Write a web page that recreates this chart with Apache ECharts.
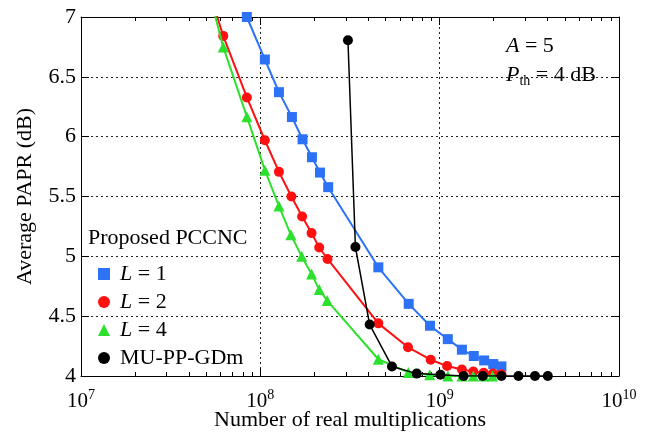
<!DOCTYPE html>
<html>
<head>
<meta charset="utf-8">
<script src="https://cdn.jsdelivr.net/npm/echarts@6/dist/echarts.min.js"></script>
<style>html,body{margin:0;padding:0;background:#fff}#c{width:654px;height:438px}</style>
</head>
<body>
<div id="c"></div>
<script>
// ---- data ----
const xL1 = [8.41e7, 1.06e8, 1.27e8, 1.50e8, 1.72e8, 1.94e8, 2.15e8, 2.39e8, 4.55e8, 6.72e8, 8.83e8, 1.11e9, 1.33e9, 1.55e9, 1.77e9, 1.99e9, 2.21e9];
const yL1 = [7.0, 6.645, 6.372, 6.164, 5.978, 5.828, 5.70, 5.578, 4.908, 4.603, 4.42, 4.308, 4.22, 4.167, 4.13, 4.10, 4.08];
const xL2 = [4.0e7, 6.21e7, 8.41e7, 1.06e8, 1.27e8, 1.49e8, 1.71e8, 1.93e8, 2.13e8, 2.37e8, 4.55e8, 6.66e8, 8.91e8, 1.10e9, 1.33e9, 1.54e9, 1.76e9, 1.98e9, 2.21e9];
const yL2 = [7.75, 6.842, 6.328, 5.97, 5.706, 5.5, 5.333, 5.194, 5.074, 4.978, 4.44, 4.24, 4.136, 4.083, 4.055, 4.038, 4.027, 4.02, 4.015];
const xL4 = [4.0e7, 6.21e7, 8.41e7, 1.06e8, 1.27e8, 1.48e8, 1.70e8, 1.93e8, 2.13e8, 2.36e8, 4.55e8, 6.69e8, 8.80e8, 1.11e9, 1.33e9, 1.54e9, 1.76e9, 1.97e9];
const yL4 = [7.85, 6.75, 6.167, 5.72, 5.42, 5.18, 5.0, 4.853, 4.722, 4.63, 4.14, 4.03, 4.01, 4.0, 4.0, 4.0, 4.0, 4.0];
const xMU = [3.08e8, 3.39e8, 4.07e8, 5.42e8, 7.45e8, 1.01e9, 1.36e9, 1.74e9, 2.21e9, 2.75e9, 3.40e9, 4.01e9];
const yMU = [6.806, 5.078, 4.43, 4.08, 4.02, 4.01, 4.0, 4.0, 4.0, 4.0, 4.0, 4.0];
const seriesNames = ['L = 1', 'L = 2', 'L = 4', 'MU-PP-GDm'];
const xMinorTicks = [2e7,3e7,4e7,5e7,6e7,7e7,8e7,9e7,2e8,3e8,4e8,5e8,6e8,7e8,8e8,9e8,2e9,3e9,4e9,5e9,6e9,7e9,8e9,9e9];
const xTitle = 'Number of real multiplications';
const yTitle = 'Average PAPR (dB)';
const legendTitle = 'Proposed PCCNC';
const annoLine1 = '{i|A} = 5';
const annoLine2 = '{i|P}{sub|th} = 4 dB';

const FF = '"Liberation Serif", "Times New Roman", serif';
const pair = (xs, ys) => xs.map((x, i) => [x, ys[i]]);
// minor-tick helper axes live in decade (exponent) units: 7..10
const minorExp = xMinorTicks.map(v => Math.log10(v));

const chart = echarts.init(document.getElementById('c'), null, {renderer: 'canvas'});
const gridStyle = {show: true, lineStyle: {color: '#222', width: 1, type: [2, 3]}};
const baseX = {type: 'log', logBase: 10, min: 1e7, max: 1e10, gridIndex: 0};
const minorX = pos => ({
  type: 'value', min: 7, max: 10, interval: 1, gridIndex: 0, position: pos,
  axisLine: {show: false},
  axisTick: {show: true, inside: true, length: 4, customValues: minorExp, lineStyle: {color: '#000'}},
  axisLabel: {show: false}, splitLine: {show: false}
});
const option = {
  animation: false,
  grid: {left: 81, right: 35, top: 17, bottom: 62, containLabel: false, outerBoundsMode: 'none'},
  xAxis: [
    Object.assign({}, baseX, {
      position: 'bottom',
      axisLine: {show: true, lineStyle: {color: '#000', width: 1}},
      axisTick: {show: true, inside: true, length: 8, lineStyle: {color: '#000'}},
      axisLabel: {
        margin: 12, color: '#000', fontFamily: FF,
        formatter: v => '{b|10}{s|' + Math.round(Math.log10(v)) + '}',
        rich: {
          b: {fontSize: 21, fontFamily: FF, color: '#000', lineHeight: 26},
          s: {fontSize: 14, fontFamily: FF, color: '#000', verticalAlign: 'top'}
        }
      },
      splitLine: gridStyle,
      name: xTitle, nameLocation: 'middle', nameGap: 33, nameMoveOverlap: false,
      nameTextStyle: {fontSize: 22, fontFamily: FF, color: '#000'}
    }),
    minorX('bottom'),
    Object.assign({}, baseX, {
      position: 'top',
      axisLine: {show: true, lineStyle: {color: '#000', width: 1}},
      axisTick: {show: true, inside: true, length: 8, lineStyle: {color: '#000'}},
      axisLabel: {show: false}, splitLine: {show: false}
    }),
    minorX('top')
  ],
  yAxis: [
    {
      type: 'value', min: 4, max: 7, interval: 0.5, position: 'left',
      axisLine: {show: true, lineStyle: {color: '#000', width: 1}},
      axisTick: {show: true, inside: true, length: 8, lineStyle: {color: '#000'}},
      axisLabel: {margin: 5, fontSize: 22, fontFamily: FF, color: '#000'},
      splitLine: gridStyle,
      name: yTitle, nameLocation: 'middle', nameGap: 45, nameMoveOverlap: false,
      nameTextStyle: {fontSize: 22, fontFamily: FF, color: '#000'}
    },
    {
      type: 'value', min: 4, max: 7, interval: 0.5, position: 'right',
      axisLine: {show: true, lineStyle: {color: '#000', width: 1}},
      axisTick: {show: true, inside: true, length: 8, lineStyle: {color: '#000'}},
      axisLabel: {show: false}, splitLine: {show: false}
    }
  ],
  legend: {
    orient: 'vertical', left: 93, top: 257,
    itemWidth: 12, itemHeight: 12, itemGap: 4,
    data: [
      {name: seriesNames[0], icon: 'rect'},
      {name: seriesNames[1], icon: 'circle'},
      {name: seriesNames[2], icon: 'triangle'},
      {name: seriesNames[3], icon: 'circle'}
    ],
    formatter: n => n.charAt(0) === 'L' ? '{i|L}' + n.slice(1) : n,
    textStyle: {
      fontSize: 22, fontFamily: FF, color: '#000', lineHeight: 24, padding: [0, 0, 0, 5],
      rich: {i: {fontStyle: 'italic', fontSize: 22, fontFamily: FF, color: '#000', lineHeight: 24}}
    }
  },
  graphic: [
    {type: 'text', left: 88, top: 227, style: {text: legendTitle, fontSize: 22, fontFamily: FF, fill: '#000'}},
    {type: 'text', left: 506, top: 35, style: {
      text: annoLine1, fontSize: 22, fontFamily: FF, fill: '#000',
      rich: {i: {fontStyle: 'italic', fontSize: 22, fontFamily: FF, lineHeight: 26}}
    }},
    {type: 'text', left: 506, top: 62, style: {
      text: annoLine2, fontSize: 22, fontFamily: FF, fill: '#000', lineHeight: 26,
      rich: {
        i: {fontStyle: 'italic', fontSize: 22, fontFamily: FF, lineHeight: 26},
        sub: {fontSize: 14, fontFamily: FF, verticalAlign: 'bottom'}
      }
    }}
  ],
  series: [
    {name: seriesNames[0], type: 'line', data: pair(xL1, yL1), symbol: 'rect', symbolSize: 10,
     color: '#2d72f5', lineStyle: {width: 2}, clip: true, z: 2},
    {name: seriesNames[1], type: 'line', data: pair(xL2, yL2), symbol: 'circle', symbolSize: 10,
     color: '#ff1010', lineStyle: {width: 2}, clip: true, z: 3},
    {name: seriesNames[2], type: 'line', data: pair(xL4, yL4), symbol: 'triangle', symbolSize: 11,
     color: '#2ee02e', lineStyle: {width: 2}, clip: true, z: 4},
    {name: seriesNames[3], type: 'line', data: pair(xMU, yMU), symbol: 'circle', symbolSize: 10,
     color: '#000000', lineStyle: {width: 1.5}, clip: true, z: 5}
  ]
};
chart.setOption(option);
</script>
</body>
</html>
